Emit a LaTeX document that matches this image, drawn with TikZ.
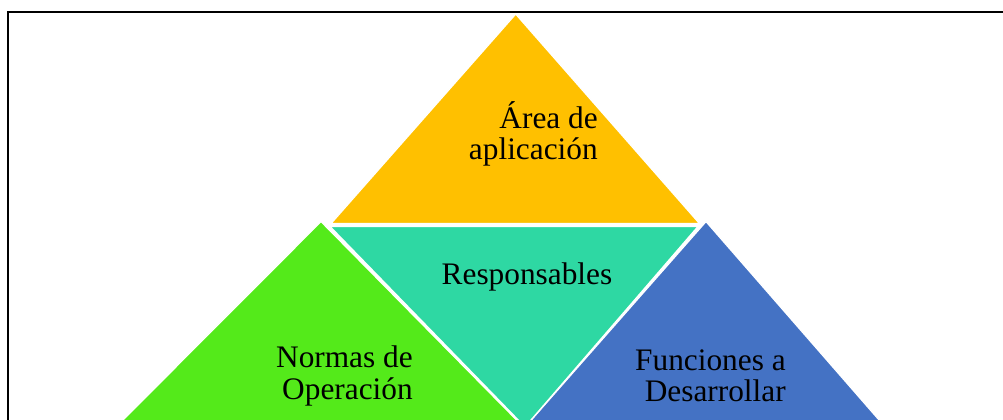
\documentclass[tikz,border=0pt]{standalone}
\usepackage{fontspec}
\setmainfont{Liberation Serif}
\definecolor{AreaYellow}{RGB}{255, 192, 0}
\definecolor{RespTeal}{RGB}{46, 216, 163}
\definecolor{NormGreen}{RGB}{84, 234, 26}
\definecolor{FuncBlue}{RGB}{68, 114, 196}
\usepackage{tikz}
\usetikzlibrary{positioning, calc}

\begin{document}
\begin{tikzpicture}[x=0.75pt, y=-0.75pt,
        tri/.style={draw=white, line width=1pt, line join=miter},
        lbl/.style={inner sep=0pt, font=\fontsize{23.5}{23.5}\selectfont, align=right, text=black}
    ]
        \useasboundingbox (0,0) rectangle (1003,420);
        \clip (0,0) rectangle (1003,420);

        % Frame
        \draw[line width=1.5pt] (8,12) rectangle (1012,450);

        % Corners of the pieces
        \coordinate (areaTop) at (515.7,14);
        \coordinate (areaL) at (331,223.5);
        \coordinate (areaR) at (699.5,223.5);
        \coordinate (respL) at (330,226.5);
        \coordinate (respR) at (698,226.5);
        \coordinate (respBot) at (525,427);
        \coordinate (normTop) at (321,221.5);
        \coordinate (normL) at (83,460);
        \coordinate (normR) at (556,460);
        \coordinate (funcTop) at (706,221.5);
        \coordinate (funcL) at (496,460);
        \coordinate (funcR) at (914,460);

        % Pieces
        \filldraw[tri, fill=NormGreen] (normTop) -- (normR) -- (normL) -- cycle;
        \filldraw[tri, fill=FuncBlue] (funcTop) -- (funcR) -- (funcL) -- cycle;
        \filldraw[tri, fill=RespTeal] (respL) -- (respR) -- (respBot) -- cycle;
        \filldraw[tri, fill=AreaYellow] (areaTop) -- (areaR) -- (areaL) -- cycle;

        % Labels
        \node[lbl, anchor=east] (area) at (598,134) {Área de\\aplicación};
        \node[lbl, anchor=base] (resp) at (527,285) {Responsables};
        \node[lbl, anchor=east] (norm) at (413,376) {Normas de\\Operación};
        \node[lbl, anchor=east] (func) at (786,376) {Funciones a\\Desarrollar};
    \end{tikzpicture}
\end{document}
